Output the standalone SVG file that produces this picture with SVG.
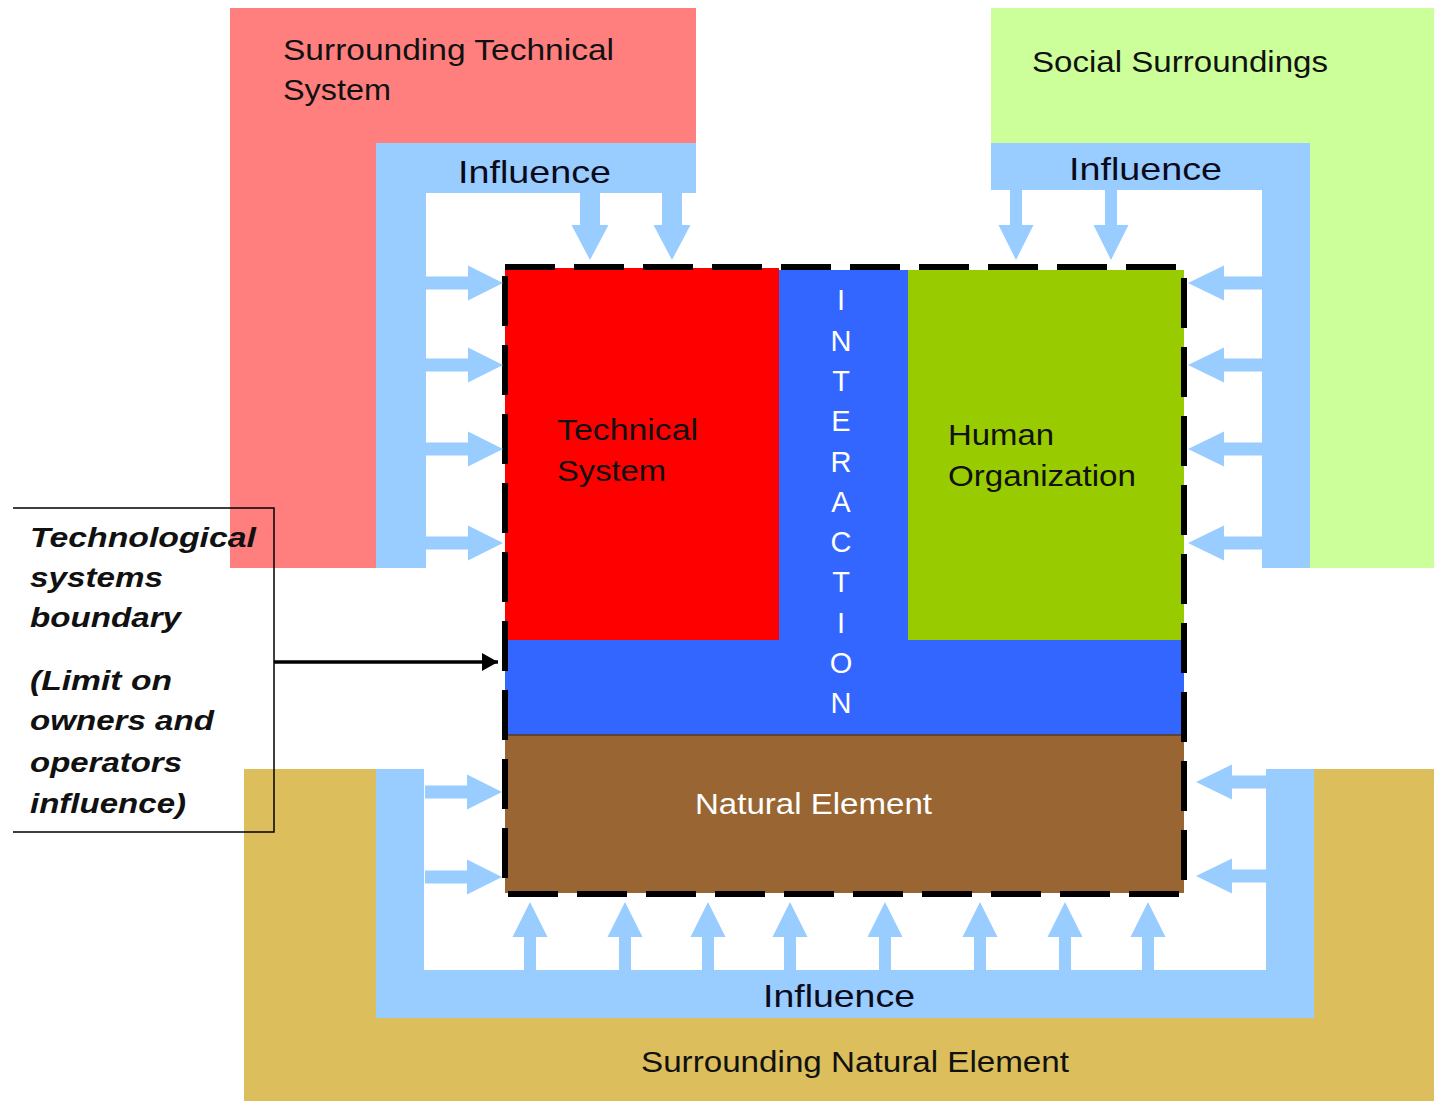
<svg xmlns="http://www.w3.org/2000/svg" width="1434" height="1101" viewBox="0 0 1434 1101">
<style>
  .t { font-family: "Liberation Sans", Arial, sans-serif; font-size: 29px; fill: #111; }
  .inf { font-family: "Liberation Sans", Arial, sans-serif; font-size: 32px; fill: #0a0a1a; }
  .w { font-family: "Liberation Sans", Arial, sans-serif; font-size: 29px; fill: #ffffff; }
  .lg { font-family: "Liberation Sans", Arial, sans-serif; font-size: 28px; font-weight: bold; font-style: italic; fill: #111; }
  .band { fill: #99CCFF; }
  .ar { fill: #99CCFF; }
  .hole { fill: #ffffff; }
</style>
<defs>
  <polygon id="arrR" points="-77,-6.5 -35,-6.5 -35,-17.5 0,0 -35,17.5 -35,6.5 -77,6.5"/>
  <polygon id="arrL" points="74,-6.5 36,-6.5 36,-17.5 0,0 36,17.5 36,6.5 74,6.5"/>
  <polygon id="arrLb" points="70,-6.5 36,-6.5 36,-17.5 0,0 36,17.5 36,6.5 70,6.5"/>
  <polygon id="arrDw" points="-10,-67 10,-67 10,-35 18.5,-35 0,0 -18.5,-35 -10,-35"/>
  <polygon id="arrD" points="-6,-70 6,-70 6,-35 17.5,-35 0,0 -17.5,-35 -6,-35"/>
  <polygon id="arrU" points="-6,68 6,68 6,35 17.5,35 0,0 -17.5,35 -6,35"/>
  <marker id="blk" markerWidth="16" markerHeight="18" refX="16" refY="9" orient="auto" markerUnits="userSpaceOnUse">
    <polygon points="0,0 16,9 0,18" fill="#000"/>
  </marker>
</defs>

<!-- surrounding regions -->
<g id="surrounding-technical-system">
  <rect x="230" y="8" width="466" height="560" fill="#FF7F7F"/>
  <rect class="hole" x="426" y="193" width="270" height="375"/>
  <text class="t" x="283" y="60" textLength="331" lengthAdjust="spacingAndGlyphs">Surrounding Technical</text>
  <text class="t" x="283" y="100" textLength="108" lengthAdjust="spacingAndGlyphs">System</text>
</g>
<g id="social-surroundings">
  <rect x="991" y="8" width="443" height="560" fill="#CCFF99"/>
  <rect class="hole" x="991" y="190" width="271" height="378"/>
  <text class="t" x="1032" y="72" textLength="296" lengthAdjust="spacingAndGlyphs">Social Surroundings</text>
</g>
<g id="surrounding-natural-element">
  <rect x="244" y="769" width="1190" height="332" fill="#DCBE5C"/>
  <rect class="hole" x="424" y="769" width="842" height="201"/>
  <text class="t" x="641" y="1072" textLength="428" lengthAdjust="spacingAndGlyphs">Surrounding Natural Element</text>
</g>

<!-- influence brackets -->
<g id="influence-technical">
  <path class="band" d="M376,143 H696 V193 H426 V568 H376 Z"/>
  <text class="inf" x="458" y="183" textLength="153" lengthAdjust="spacingAndGlyphs">Influence</text>
</g>
<g id="influence-social">
  <path class="band" d="M991,143 H1310 V568 H1262 V190 H991 Z"/>
  <text class="inf" x="1069" y="180" textLength="153" lengthAdjust="spacingAndGlyphs">Influence</text>
</g>
<g id="influence-natural">
  <path class="band" d="M376,769 H424 V970 H1266 V769 H1314 V1018 H376 Z"/>
  <text class="inf" x="763" y="1007" textLength="152" lengthAdjust="spacingAndGlyphs">Influence</text>
</g>

<!-- core system -->
<g id="interaction">
  <rect x="505" y="270" width="679" height="465" fill="#3366FF"/>
  <g class="w" text-anchor="middle">
    <text x="841" y="310">I</text>
    <text x="841" y="351">N</text>
    <text x="841" y="391">T</text>
    <text x="841" y="431">E</text>
    <text x="841" y="472">R</text>
    <text x="841" y="512">A</text>
    <text x="841" y="552">C</text>
    <text x="841" y="592">T</text>
    <text x="841" y="633">I</text>
    <text x="841" y="673">O</text>
    <text x="841" y="713">N</text>
  </g>
</g>
<g id="technical-system">
  <rect x="505" y="268" width="274" height="372" fill="#FF0000"/>
  <text class="t" x="557" y="440" textLength="141" lengthAdjust="spacingAndGlyphs">Technical</text>
  <text class="t" x="557" y="481" textLength="109" lengthAdjust="spacingAndGlyphs">System</text>
</g>
<g id="human-organization">
  <rect x="908" y="270" width="276" height="370" fill="#99CC00"/>
  <text class="t" x="948" y="445" textLength="106" lengthAdjust="spacingAndGlyphs">Human</text>
  <text class="t" x="948" y="486" textLength="188" lengthAdjust="spacingAndGlyphs">Organization</text>
</g>
<g id="natural-element">
  <rect x="505" y="735" width="679" height="158" fill="#996633"/>
  <line x1="505" y1="735" x2="1184" y2="735" stroke="#5a3a1a" stroke-width="1.5"/>
  <text class="w" x="695" y="814" textLength="237" lengthAdjust="spacingAndGlyphs">Natural Element</text>
</g>
<g id="system-boundary">
  <rect x="505" y="267" width="679" height="627" fill="none" stroke="#000" stroke-width="6" stroke-dasharray="50 19"/>
</g>

<!-- legend -->
<g id="boundary-legend">
  <path d="M13,508 H274 V832 H13" fill="none" stroke="#000" stroke-width="1.5"/>
  <text class="lg" x="30" y="547" textLength="226" lengthAdjust="spacingAndGlyphs">Technological</text>
  <text class="lg" x="30" y="587" textLength="133" lengthAdjust="spacingAndGlyphs">systems</text>
  <text class="lg" x="30" y="627" textLength="151" lengthAdjust="spacingAndGlyphs">boundary</text>
  <text class="lg" x="30" y="690" textLength="142" lengthAdjust="spacingAndGlyphs">(Limit on</text>
  <text class="lg" x="30" y="730" textLength="184" lengthAdjust="spacingAndGlyphs">owners and</text>
  <text class="lg" x="30" y="772" textLength="152" lengthAdjust="spacingAndGlyphs">operators</text>
  <text class="lg" x="30" y="813" textLength="156" lengthAdjust="spacingAndGlyphs">influence)</text>
</g>

<!-- connectors -->
<g id="connectors">
  <line x1="274" y1="662" x2="498" y2="662" stroke="#000" stroke-width="3.5" marker-end="url(#blk)"/>
  <g class="ar">
    <use href="#arrDw" x="590" y="260"/>
    <use href="#arrDw" x="672" y="260"/>
    <use href="#arrD" x="1016" y="260"/>
    <use href="#arrD" x="1111" y="260"/>
    <use href="#arrR" x="503" y="283"/>
    <use href="#arrR" x="503" y="365"/>
    <use href="#arrR" x="503" y="449"/>
    <use href="#arrR" x="503" y="543"/>
    <use href="#arrR" x="502" y="792"/>
    <use href="#arrR" x="502" y="877"/>
    <use href="#arrL" x="1188" y="283"/>
    <use href="#arrL" x="1188" y="365"/>
    <use href="#arrL" x="1188" y="449"/>
    <use href="#arrL" x="1188" y="543"/>
    <use href="#arrLb" x="1196" y="782"/>
    <use href="#arrLb" x="1196" y="876"/>
    <use href="#arrU" x="530" y="902"/>
    <use href="#arrU" x="625" y="902"/>
    <use href="#arrU" x="708" y="902"/>
    <use href="#arrU" x="790" y="902"/>
    <use href="#arrU" x="885" y="902"/>
    <use href="#arrU" x="980" y="902"/>
    <use href="#arrU" x="1065" y="902"/>
    <use href="#arrU" x="1148" y="902"/>
  </g>
</g>
</svg>
